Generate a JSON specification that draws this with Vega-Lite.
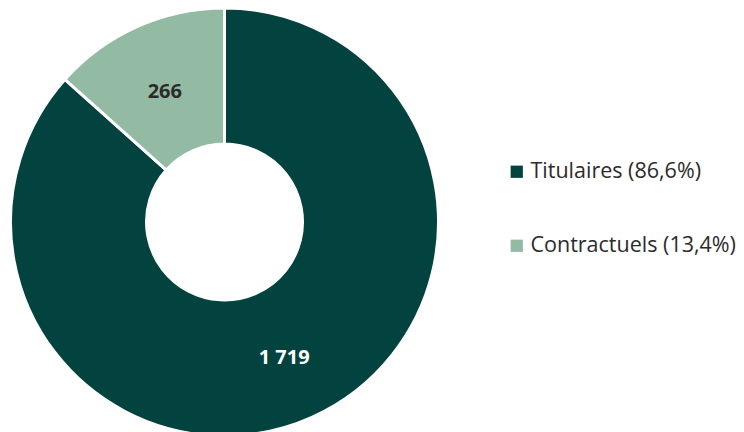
{
  "$schema": "https://vega.github.io/schema/vega-lite/v6.json",
  "width": 449,
  "height": 444,
  "padding": {"left": 0, "top": 0, "right": 0, "bottom": 0},
  "autosize": {"type": "pad"},
  "background": "white",
  "config": {"view": {"stroke": null}, "font": "Open Sans"},
  "data": {
    "values": [
      {"statut": "Titulaires (86,6%)", "effectif": 1719, "etiquette": "1 719", "rang": 1},
      {"statut": "Contractuels (13,4%)", "effectif": 266, "etiquette": "266", "rang": 2}
    ]
  },
  "encoding": {
    "theta": {"field": "effectif", "type": "quantitative", "stack": true},
    "order": {"field": "rang", "type": "quantitative"}
  },
  "layer": [
    {
      "mark": {"type": "arc", "outerRadius": 214, "innerRadius": 78, "stroke": "white", "strokeWidth": 3},
      "encoding": {
        "color": {
          "field": "statut",
          "type": "nominal",
          "sort": ["Titulaires (86,6%)", "Contractuels (13,4%)"],
          "scale": {"domain": ["Titulaires (86,6%)", "Contractuels (13,4%)"], "range": ["#02433F", "#93BAA3"]},
          "legend": {
            "title": null,
            "orient": "none",
            "legendX": 506,
            "legendY": 161,
            "symbolType": "square",
            "symbolSize": 150,
            "symbolStrokeWidth": 0,
            "labelFontSize": 21.5,
            "labelColor": "#2b2b2b",
            "labelFont": "Open Sans",
            "labelLimit": 400,
            "rowPadding": 51,
            "labelOffset": 3
          }
        }
      }
    },
    {
      "mark": {"type": "text", "radius": 146, "dy": 3, "fontSize": 20, "fontWeight": "bold", "font": "Open Sans"},
      "encoding": {
        "text": {"field": "etiquette", "type": "nominal"},
        "color": {
          "condition": {"test": "datum.rang == 1", "value": "#ffffff"},
          "value": "#2b2b2b"
        }
      }
    }
  ]
}
